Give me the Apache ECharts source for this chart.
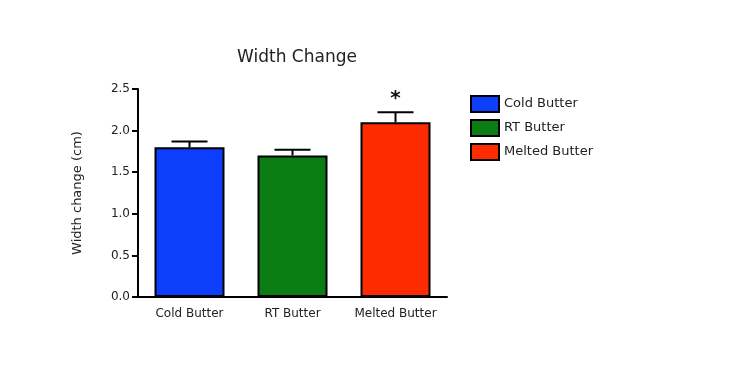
<!DOCTYPE html>
<html><head><meta charset="utf-8">
<script src="https://cdn.jsdelivr.net/npm/echarts@6/dist/echarts.min.js"></script>
<style>html,body{margin:0;padding:0;background:#fff}#c{width:730px;height:375px}</style>
</head><body><div id="c"></div>
<script>
const categories = ['Cold Butter', 'RT Butter', 'Melted Butter'];
const means = [1.80, 1.70, 2.10];
const errUpper = [1.87, 1.77, 2.22];
const sigMarks = ['', '', '*'];
const colors = ['#0d3efb', '#0b7d12', '#fe2a00'];
const yTicks = [0, 0.5, 1.0, 1.5, 2.0, 2.5];
const FONT = 'DejaVu Sans, Arial';

const chart = echarts.init(document.getElementById('c'));
const barSeries = categories.map((name, i) => ({
  name: name,
  type: 'bar',
  stack: 'all',
  barWidth: 70,
  data: categories.map((c, j) => j === i ? means[j] : '-'),
  itemStyle: { color: colors[i], borderColor: '#000', borderWidth: 2 },
  z: 2
}));
const errSeries = {
  type: 'custom',
  name: 'err',
  data: categories.map((c, i) => [i, means[i], errUpper[i]]),
  z: 3,
  renderItem: function (params, api) {
    const i = api.value(0);
    const base = api.coord([i, api.value(1)]);
    const top = api.coord([i, api.value(2)]);
    const half = 18;
    const children = [
      { type: 'line', shape: { x1: base[0], y1: base[1], x2: top[0], y2: top[1] }, style: { stroke: '#000', lineWidth: 2 } },
      { type: 'line', shape: { x1: top[0] - half, y1: top[1], x2: top[0] + half, y2: top[1] }, style: { stroke: '#000', lineWidth: 2 } }
    ];
    if (sigMarks[i]) {
      children.push({ type: 'text', style: { text: sigMarks[i], x: top[0], y: top[1] - 3, align: 'center', verticalAlign: 'bottom', fontSize: 20, fontWeight: 'bold', fontFamily: FONT, fill: '#111' } });
    }
    return { type: 'group', children: children };
  }
};
chart.setOption({
  animation: false,
  title: { text: 'Width Change', left: 292, textAlign: 'center', top: 44, textStyle: { fontSize: 17, fontWeight: 'normal', color: '#222', fontFamily: FONT } },
  legend: {
    data: categories, orient: 'vertical', left: 465, top: 90, itemWidth: 28, itemHeight: 16, itemGap: 6,
    icon: 'rect',
    itemStyle: { borderColor: '#000', borderWidth: 2 },
    textStyle: { fontSize: 13, color: '#222', fontFamily: FONT }
  },
  grid: { left: 138, right: 283, top: 89, bottom: 78 },
  xAxis: {
    type: 'category', data: categories,
    axisLine: { lineStyle: { color: '#000', width: 2 } },
    axisTick: { alignWithLabel: true, length: 5, lineStyle: { color: '#000', width: 2 } },
    axisLabel: { interval: 0, fontSize: 12, color: '#222', margin: 11, fontFamily: FONT }
  },
  yAxis: {
    type: 'value', min: 0, max: 2.5, interval: 0.5,
    name: 'Width change (cm)', nameLocation: 'middle', nameGap: 54,
    nameTextStyle: { fontSize: 13, color: '#222', fontFamily: FONT },
    axisLine: { show: true, lineStyle: { color: '#000', width: 2 } },
    axisTick: { show: true, length: 6, lineStyle: { color: '#000', width: 2 } },
    axisLabel: { fontSize: 12, color: '#222', margin: 8, fontFamily: FONT, formatter: v => v.toFixed(1) },
    splitLine: { show: false }
  },
  series: barSeries.concat([errSeries])
});
</script></body></html>
